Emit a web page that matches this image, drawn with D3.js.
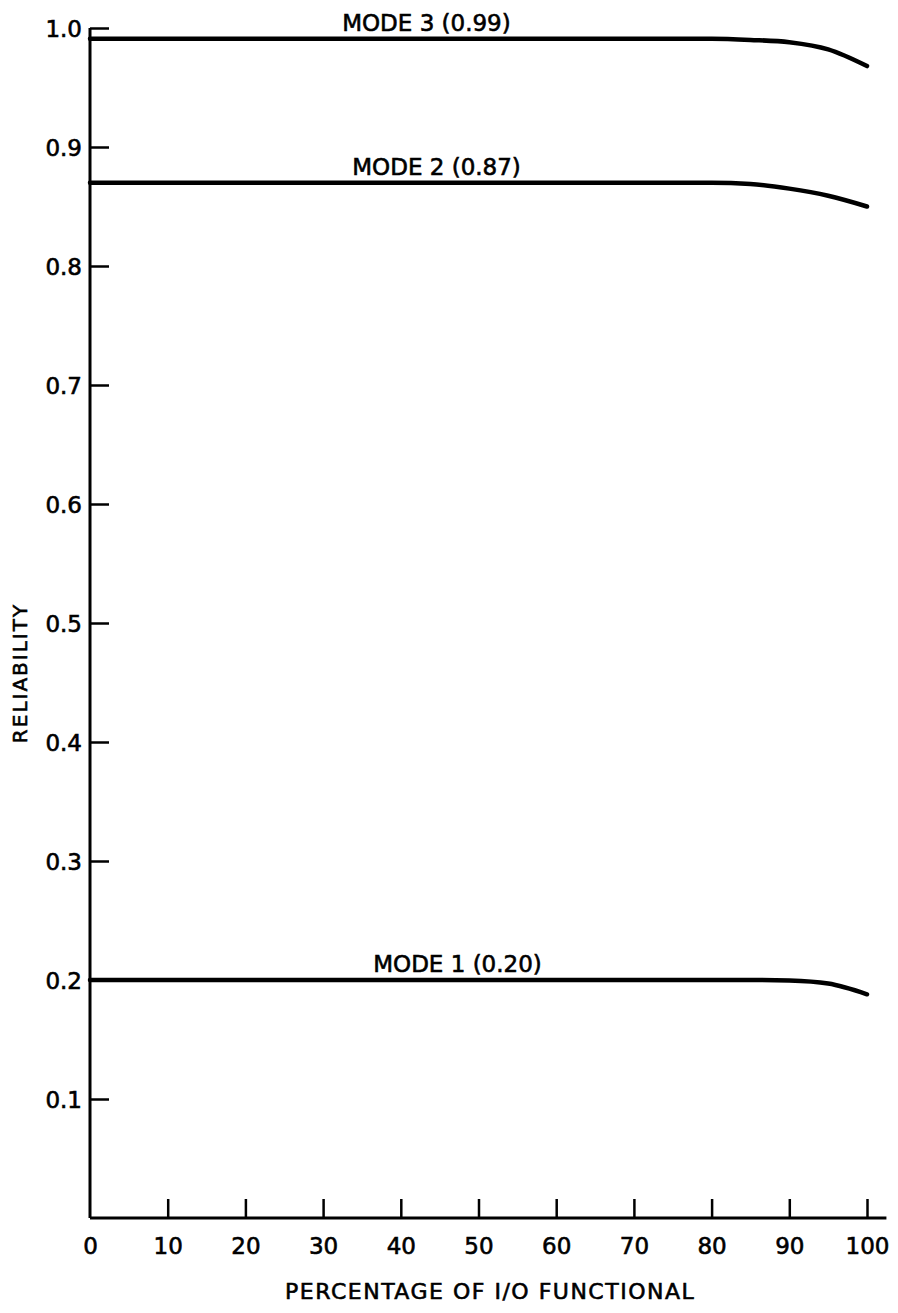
<!DOCTYPE html>
<html>
<head>
<meta charset="utf-8">
<script src="https://cdn.jsdelivr.net/npm/d3@7"></script>
<style>
  body { margin: 0; background: #fff; }
  text { font-family: "DejaVu Sans", sans-serif; fill: #000; stroke: #000; stroke-width: 0.6px; }
</style>
</head>
<body>
<script>
// percentage of I/O functional
var pct = [0, 10, 20, 30, 40, 50, 60, 70, 80, 85, 90, 95, 100];

var mode1 = [0.200, 0.200, 0.200, 0.200, 0.200, 0.200, 0.200, 0.200, 0.200, 0.200, 0.1995, 0.197, 0.188];
var mode2 = [0.870, 0.870, 0.870, 0.870, 0.870, 0.870, 0.870, 0.870, 0.870, 0.869, 0.865, 0.859, 0.850];
var mode3 = [0.991, 0.991, 0.991, 0.991, 0.991, 0.991, 0.991, 0.991, 0.991, 0.990, 0.988, 0.982, 0.968];

var seriesNames = ['MODE 1 (0.20)', 'MODE 2 (0.87)', 'MODE 3 (0.99)'];
var xTicks = [0, 10, 20, 30, 40, 50, 60, 70, 80, 90, 100];
var yTicks = [0.1, 0.2, 0.3, 0.4, 0.5, 0.6, 0.7, 0.8, 0.9, 1.0];

var width = 898, height = 1313;

var svg = d3.select('body')
  .append('svg')
  .attr('width', width)
  .attr('height', height);

var x = d3.scaleLinear().domain([0, 100]).range([90, 867]);
var y = d3.scaleLinear().domain([0, 1]).range([1218, 28]);

// y axis: ticks point inward
var yAxis = d3.axisRight(y)
  .tickValues(yTicks)
  .tickSize(19)
  .tickFormat(d3.format('.1f'));

var gy = svg.append('g')
  .attr('transform', 'translate(' + x(0) + ',0)')
  .call(yAxis);
gy.select('.domain').remove();
gy.selectAll('.tick line').attr('stroke', '#000').attr('stroke-width', 2.5);
gy.selectAll('.tick text')
  .attr('x', -8)
  .attr('dy', '0.36em')
  .attr('text-anchor', 'end')
  .style('font-size', '23px');

gy.append('line')
  .attr('x1', 0).attr('x2', 0)
  .attr('y1', y(1)).attr('y2', y(0))
  .attr('stroke', '#000').attr('stroke-width', 3);

// x axis: ticks point upward
var xAxis = d3.axisTop(x)
  .tickValues(xTicks)
  .tickSize(19)
  .tickFormat(d3.format('d'));

var gx = svg.append('g')
  .attr('transform', 'translate(0,' + y(0) + ')')
  .call(xAxis);
gx.select('.domain').remove();
gx.selectAll('.tick line').attr('stroke', '#000').attr('stroke-width', 2.5);
gx.selectAll('.tick').filter(function (d) { return d === 0; }).select('line').remove();
gx.selectAll('.tick text')
  .attr('y', 36)
  .attr('dy', 0)
  .style('font-size', '23px');

gx.append('line')
  .attr('x1', x(0)).attr('x2', x(102.5))
  .attr('y1', 0).attr('y2', 0)
  .attr('stroke', '#000').attr('stroke-width', 3);

// curves
var series = [mode1, mode2, mode3].map(function (vals, i) {
  return { name: seriesNames[i], points: vals.map(function (v, j) { return [pct[j], v]; }) };
});

var line = d3.line()
  .x(function (d) { return x(d[0]); })
  .y(function (d) { return y(d[1]); })
  .curve(d3.curveMonotoneX);

svg.selectAll('path.mode')
  .data(series)
  .enter()
  .append('path')
  .attr('class', 'mode')
  .attr('d', function (d) { return line(d.points); })
  .attr('fill', 'none')
  .attr('stroke', '#000')
  .attr('stroke-width', 4.5)
  .attr('stroke-linecap', 'round');

// curve labels, sitting just above each line
var labelAt = [47.3, 44.6, 43.3];
svg.selectAll('text.mode-label')
  .data(series)
  .enter()
  .append('text')
  .attr('class', 'mode-label')
  .attr('x', function (d, i) { return x(labelAt[i]); })
  .attr('y', function (d) { return y(d.points[0][1]) - 8; })
  .attr('text-anchor', 'middle')
  .style('font-size', '23px')
  .text(function (d) { return d.name; });

// axis titles
svg.append('text')
  .attr('x', x(51.5))
  .attr('y', 1299)
  .attr('text-anchor', 'middle')
  .style('font-size', '22px')
  .style('letter-spacing', '1.5px')
  .text('PERCENTAGE OF I/O FUNCTIONAL');

svg.append('text')
  .attr('transform', 'translate(27,' + y(0.458) + ') rotate(-90)')
  .attr('text-anchor', 'middle')
  .style('font-size', '20px')
  .style('letter-spacing', '2px')
  .text('RELIABILITY');
</script>
</body>
</html>
